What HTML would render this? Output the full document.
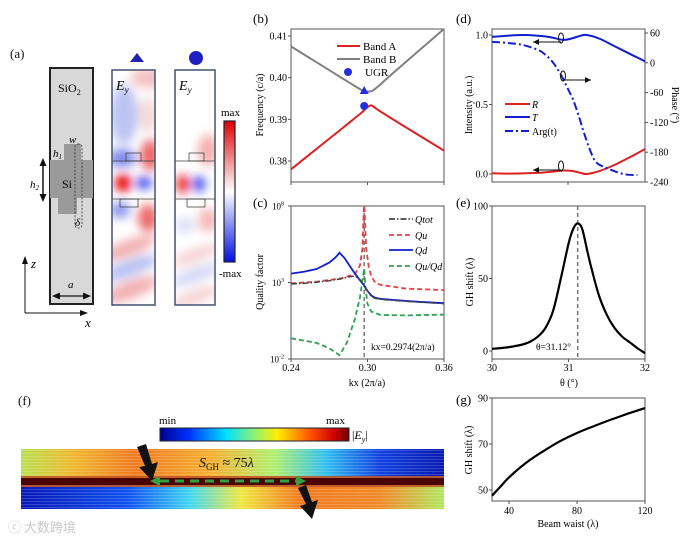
<!DOCTYPE html>
<html><head><meta charset="utf-8">
<style>
html,body{margin:0;padding:0;background:#fff;}
svg{display:block;font-family:"Liberation Serif","Noto Serif CJK SC",serif;}
.lb{font-size:13px;fill:#111;}
</style></head>
<body>
<svg id="fig" width="689" height="543" viewBox="0 0 689 543" xmlns="http://www.w3.org/2000/svg">
<defs>
<filter id="blur6" x="-50%" y="-50%" width="200%" height="200%"><feGaussianBlur stdDeviation="5"/></filter>
<linearGradient id="rwb" x1="0" y1="0" x2="0" y2="1"><stop offset="0" stop-color="#e00000"/><stop offset="0.5" stop-color="#ffffff"/><stop offset="1" stop-color="#0010e0"/></linearGradient>
<linearGradient id="jet" x1="0" y1="0" x2="1" y2="0"><stop offset="0" stop-color="#00008f"/><stop offset="0.15" stop-color="#0030ff"/><stop offset="0.35" stop-color="#00e0ff"/><stop offset="0.5" stop-color="#90f070"/><stop offset="0.62" stop-color="#ffef00"/><stop offset="0.8" stop-color="#ff5000"/><stop offset="0.92" stop-color="#d00000"/><stop offset="1" stop-color="#700000"/></linearGradient>
<linearGradient id="upper" gradientUnits="userSpaceOnUse" x1="21" y1="0" x2="444" y2="0"><stop offset="0" stop-color="#b8e050"/><stop offset="0.12" stop-color="#f0b830"/><stop offset="0.27" stop-color="#f07a20"/><stop offset="0.45" stop-color="#f5b030"/><stop offset="0.6" stop-color="#b0f070"/><stop offset="0.72" stop-color="#30c0f0"/><stop offset="0.85" stop-color="#1040e0"/><stop offset="1" stop-color="#0818b0"/></linearGradient>
<linearGradient id="lower" gradientUnits="userSpaceOnUse" x1="21" y1="0" x2="444" y2="0"><stop offset="0" stop-color="#0818b8"/><stop offset="0.25" stop-color="#1050f0"/><stop offset="0.4" stop-color="#40d8f0"/><stop offset="0.52" stop-color="#f0e840"/><stop offset="0.66" stop-color="#f07a20"/><stop offset="0.85" stop-color="#f08a28"/><stop offset="1" stop-color="#b0e860"/></linearGradient>
<pattern id="stripes" width="4" height="3" patternUnits="userSpaceOnUse"><rect width="4" height="1" fill="#ffffff" opacity="0.18"/></pattern>
<clipPath id="cb2"><rect x="112" y="70" width="43" height="235"/></clipPath>
<clipPath id="cb3"><rect x="175" y="70" width="40" height="235"/></clipPath>
</defs>

<g>
<text class="lb" x="10" y="58">(a)</text>
<rect x="50" y="68" width="43" height="236" fill="#d8d8d8" stroke="#222" stroke-width="2"/>
<text x="58" y="92" style="font-size:12px">SiO<tspan style="font-size:8px" dy="3">2</tspan></text>
<rect x="64" y="144" width="17" height="17" fill="#9a9a9a"/>
<rect x="50" y="160" width="43" height="38" fill="#9a9a9a"/>
<rect x="58" y="197" width="19" height="17" fill="#9a9a9a"/>
<rect x="75" y="144" width="7" height="84" rx="3" fill="none" stroke="#333" stroke-dasharray="2,1.5" stroke-width="0.8"/>
<text x="62" y="188" style="font-size:12px">Si</text>
<text x="69" y="143" style="font-size:11px;font-style:italic">w</text>
<text x="53" y="157" style="font-size:11px;font-style:italic">h<tspan style="font-size:7px" dy="2">1</tspan></text>
<text x="30" y="188" style="font-size:11px;font-style:italic">h<tspan style="font-size:7px" dy="2">2</tspan></text>
<line x1="43" y1="163" x2="43" y2="197" stroke="#111" stroke-width="1.5"/>
<polygon points="43,158 39.5,166 46.5,166" fill="#111"/><polygon points="43,202 39.5,194 46.5,194" fill="#111"/>
<text x="75" y="226" style="font-size:11px;font-style:italic">δ</text>
<text x="68" y="288" style="font-size:11px;font-style:italic">a</text>
<line x1="56" y1="296" x2="88" y2="296" stroke="#111" stroke-width="1.3"/>
<polygon points="52,296 60,292.5 60,299.5" fill="#111"/><polygon points="91,296 83,292.5 83,299.5" fill="#111"/>
<line x1="25" y1="313" x2="25" y2="262" stroke="#111" stroke-width="1"/>
<polygon points="25,256 22,264 28,264" fill="#111"/>
<line x1="25" y1="313" x2="82" y2="313" stroke="#111" stroke-width="1"/>
<polygon points="88,313 80,310 80,316" fill="#111"/>
<text x="31" y="268" style="font-size:13px;font-style:italic">z</text>
<text x="85" y="327" style="font-size:13px;font-style:italic">x</text>

<polygon points="137,53 130,62 144,62" fill="#2020b0"/>
<circle cx="196" cy="58" r="7" fill="#2020c0"/>

<g clip-path="url(#cb2)">
<rect x="112" y="70" width="43" height="235" fill="#fff"/>
<g filter="url(#blur6)">
<ellipse cx="150" cy="78" rx="20" ry="10" fill="#f4c0c0"/>
<ellipse cx="124" cy="115" rx="14" ry="30" fill="#bcc4f2"/>
<ellipse cx="148" cy="115" rx="10" ry="18" fill="#f6dada"/>
<ellipse cx="122" cy="158" rx="14" ry="9" fill="#7c88ea"/>
<ellipse cx="150" cy="155" rx="9" ry="16" fill="#ee6060"/>
<ellipse cx="123" cy="183" rx="8" ry="9" fill="#e80000"/>
<ellipse cx="144" cy="183" rx="8" ry="6" fill="#3040e8"/>
<ellipse cx="148" cy="218" rx="10" ry="14" fill="#ee6868"/>
<ellipse cx="120" cy="210" rx="10" ry="8" fill="#8890ec"/>
<ellipse cx="128" cy="248" rx="30" ry="8" fill="#f2b0b0" transform="rotate(-20 128 248)"/>
<ellipse cx="130" cy="268" rx="30" ry="8" fill="#b8c0f2" transform="rotate(-20 130 268)"/>
<ellipse cx="130" cy="290" rx="30" ry="9" fill="#f2b0b0" transform="rotate(-20 130 290)"/>
</g>
<rect x="126" y="153" width="15" height="8" fill="none" stroke="#333" stroke-width="0.7"/>
<rect x="112" y="161" width="43" height="38" fill="none" stroke="#333" stroke-width="0.7"/>
<rect x="120" y="199" width="18" height="8" fill="none" stroke="#333" stroke-width="0.7"/>
</g>
<rect x="112" y="70" width="43" height="235" fill="none" stroke="#445070" stroke-width="1.5"/>
<text x="116" y="90" style="font-size:14px;font-style:italic">E<tspan style="font-size:9px" dy="3">y</tspan></text>

<g clip-path="url(#cb3)">
<rect x="175" y="70" width="40" height="235" fill="#fff"/>
<g filter="url(#blur6)">
<ellipse cx="208" cy="150" rx="10" ry="16" fill="#f4b0b0"/>
<ellipse cx="183" cy="184" rx="6" ry="9" fill="#e81010"/>
<ellipse cx="199" cy="184" rx="6" ry="8" fill="#3040e8"/>
<ellipse cx="208" cy="220" rx="10" ry="12" fill="#f4b8b8"/>
<ellipse cx="185" cy="225" rx="10" ry="8" fill="#dcdff8"/>
<ellipse cx="195" cy="255" rx="26" ry="7" fill="#f6d4d4" transform="rotate(-20 195 255)"/>
<ellipse cx="195" cy="275" rx="26" ry="7" fill="#d4d8f6" transform="rotate(-20 195 275)"/>
<ellipse cx="195" cy="297" rx="26" ry="7" fill="#f6d4d4" transform="rotate(-20 195 297)"/>
</g>
<rect x="189" y="153" width="15" height="8" fill="none" stroke="#333" stroke-width="0.7"/>
<rect x="175" y="161" width="40" height="38" fill="none" stroke="#333" stroke-width="0.7"/>
<rect x="187" y="199" width="18" height="8" fill="none" stroke="#333" stroke-width="0.7"/>
</g>
<rect x="175" y="70" width="40" height="235" fill="none" stroke="#445070" stroke-width="1.5"/>
<text x="179" y="90" style="font-size:14px;font-style:italic">E<tspan style="font-size:9px" dy="3">y</tspan></text>

<rect x="224" y="121" width="11" height="141" fill="url(#rwb)" stroke="#223" stroke-width="1.2"/>
<text x="221" y="116" style="font-size:11px">max</text>
<text x="219" y="277" style="font-size:11px">-max</text>
</g>

<g>
<text class="lb" x="18" y="405">(f)</text>
<rect x="160" y="428" width="189" height="13" fill="url(#jet)" stroke="#223" stroke-width="1"/>
<text x="159" y="424" style="font-size:11px">min</text>
<text x="326" y="424" style="font-size:11px">max</text>
<text x="352" y="439" style="font-size:12px">|<tspan font-style="italic">E</tspan><tspan style="font-size:8px;font-style:italic" dy="3">y</tspan><tspan dy="-3">|</tspan></text>
<rect x="21" y="449" width="423" height="30" fill="url(#upper)"/>
<rect x="21" y="484" width="423" height="25" fill="url(#lower)"/>
<rect x="21" y="449" width="423" height="60" fill="url(#stripes)"/>
<rect x="21" y="476" width="423" height="11" fill="#c05828" opacity="0.9"/>
<rect x="21" y="478" width="423" height="7" fill="#4a0404"/>
<text x="199" y="467" style="font-size:14px;fill:#111"><tspan font-style="italic">S</tspan><tspan style="font-size:9px" dy="3">GH</tspan><tspan dy="-3"> ≈ 75</tspan><tspan font-style="italic">λ</tspan></text>
<polygon points="137,447 146,444 152,464 158,462 152,481 139,467 145,466" fill="#111"/>
<polygon points="298,488 306,485 312,502 318,500 312,519 300,506 306,504" fill="#111"/>
<line x1="160" y1="481" x2="296" y2="481" stroke="#30a040" stroke-width="3" stroke-dasharray="9,6"/>
<polygon points="150,481 160,476 160,486" fill="#30a040"/><polygon points="306,481 296,476 296,486" fill="#30a040"/>
<text x="8" y="532" style="font-size:13px;fill:#c8c8c8;font-family:'Noto Sans CJK SC',sans-serif">ⓒ 大数跨境</text>
</g>

<g id="charts"></g>
</svg>

<script>
// ---------- data ----------
const bK = [0.24,0.26,0.28,0.29,0.295,0.2974,0.30,0.302,0.304,0.31,0.33,0.36];
const bandA = [0.378,0.3829,0.3878,0.3903,0.3915,0.3922,0.3929,0.3933,0.3932,0.3919,0.3881,0.3825];
const bK2 = [0.24,0.26,0.28,0.29,0.295,0.298,0.302,0.306,0.32,0.34,0.36];
const bandB = [0.4075,0.4037,0.3999,0.3980,0.3971,0.3967,0.3967,0.3973,0.4011,0.4064,0.4117];
const ugrK = [0.2974];
const ugrLow = [0.3932];
const ugrHigh = [0.3968];
const bYTicks = [0.38,0.39,0.40,0.41];

const cK = [0.24,0.25,0.26,0.27,0.275,0.278,0.282,0.286,0.29,0.294,0.2974,0.30,0.303,0.306,0.31,0.32,0.33,0.34,0.36];
const logQd = [3.58,3.7,3.88,4.3,4.65,4.95,4.6,4.1,3.6,3.15,2.8,2.45,2.15,2.0,1.93,1.86,1.8,1.74,1.65];
const logQtot = [2.9,2.95,3.02,3.12,3.18,3.22,3.3,3.38,3.42,3.2,2.8,2.45,2.1,1.96,1.9,1.83,1.77,1.72,1.62];
const cKu = [0.24,0.26,0.28,0.29,0.294,0.296,0.2972,0.2976,0.299,0.301,0.303,0.306,0.31,0.33,0.36];
const logQu = [2.95,3.05,3.28,3.55,4.1,5.2,8.0,8.0,5.2,4.0,3.4,3.0,2.85,2.6,2.5];
const cKr = [0.24,0.26,0.27,0.278,0.284,0.29,0.294,0.2965,0.2974,0.2985,0.30,0.303,0.31,0.33,0.36];
const logRatio = [-0.65,-0.95,-1.3,-1.75,-0.9,0.6,2.0,3.4,3.9,2.6,1.6,1.1,0.88,0.85,0.9];
const cYTicks = [-2,3,8];
const cXTicks = [0.24,0.30,0.36];

const dX = [0,0.1,0.2,0.3,0.38,0.465,0.52,0.58,0.62,0.7,0.8,0.9,1];
const tIntensity = [0.986,0.995,1.0,0.995,0.985,0.965,0.975,0.995,1.0,0.975,0.92,0.865,0.81];
const rIntensity = [0.005,0.003,0.004,0.008,0.015,0.025,0.022,0.008,0.0,0.02,0.065,0.12,0.18];
const dXp = [0,0.1,0.2,0.3,0.35,0.4,0.45,0.5,0.53,0.57,0.6,0.64,0.68,0.75,0.86,0.95];
const argT = [42,40,36,26,16,0,-24,-55,-74,-110,-140,-175,-200,-212,-224,-226];
const dLTicks = [0.0,0.5,1.0];
const dRTicks = [60,0,-60,-120,-180,-240];

const theta = [30,30.2,30.4,30.5,30.6,30.7,30.8,30.9,31.0,31.06,31.12,31.18,31.25,31.3,31.4,31.5,31.6,31.7,31.8,31.9,32];
const ghShift = [1.5,2.5,4.5,6.5,10,16,28,50,74,84,88,84,68,57,38,25,16,10,6,2,-1.5];
const eYTicks = [0,50,100];
const eXTicks = [30,31,32];
const peakTheta = [31.12];

const waist = [30,35,40,50,60,70,80,90,100,110,120];
const ghWaist = [47.5,51.5,55.5,61.8,66.8,71.2,74.8,77.8,80.6,83.2,85.6];
const gYTicks = [50,70,90];
const gXTicks = [40,80,120];

// ---------- helpers ----------
const NS = 'http://www.w3.org/2000/svg';
const root = document.getElementById('charts');
function el(tag, attrs, parent){const e=document.createElementNS(NS,tag);for(const k in attrs)e.setAttribute(k,attrs[k]);(parent||root).appendChild(e);return e;}
function scale(d0,d1,p0,p1){return v=>p0+(v-d0)/(d1-d0)*(p1-p0);}
function smooth(pts){let d='M'+pts[0][0].toFixed(1)+','+pts[0][1].toFixed(1);
 for(let i=0;i<pts.length-1;i++){const p0=pts[Math.max(0,i-1)],p1=pts[i],p2=pts[i+1],p3=pts[Math.min(pts.length-1,i+2)];
  const c1=[p1[0]+(p2[0]-p0[0])/6,p1[1]+(p2[1]-p0[1])/6],c2=[p2[0]-(p3[0]-p1[0])/6,p2[1]-(p3[1]-p1[1])/6];
  d+=' C'+c1[0].toFixed(1)+','+c1[1].toFixed(1)+' '+c2[0].toFixed(1)+','+c2[1].toFixed(1)+' '+p2[0].toFixed(1)+','+p2[1].toFixed(1);}
 return d;}
function poly(pts){return 'M'+pts.map(p=>p[0].toFixed(1)+','+p[1].toFixed(1)).join(' L');}
function pts(xs,ys,sx,sy){return xs.map((x,i)=>[sx(x),sy(ys[i])]);}
function txt(x,y,s,anchor,size){const t=el('text',{x:x,y:y,'text-anchor':anchor||'start'});t.style.fontSize=(size||10)+'px';t.textContent=s;return t;}

// ---------- panel b ----------
const bx=scale(0.24,0.36,291,444), by=scale(0.37496,0.41168,182,29);
let e;
e=el('rect',{x:291,y:29,width:153,height:153,fill:'none',stroke:'#555','stroke-width':1});


bYTicks.forEach(v=>{el('line',{x1:291,x2:288,y1:by(v),y2:by(v),stroke:'#555'});
 e=txt(287,by(v)+3.5,v.toFixed(2),'end');
 
 });
cXTicks.forEach(v=>el('line',{x1:bx(v),x2:bx(v),y1:182,y2:185,stroke:'#555'}));
e=el('path',{d:smooth(pts(bK2,bandB,bx,by)),fill:'none',stroke:'#808080','stroke-width':2});


e=el('path',{d:smooth(pts(bK,bandA,bx,by)),fill:'none',stroke:'#e02020','stroke-width':2});


e=el('circle',{cx:bx(ugrK[0]),cy:by(ugrLow[0]),r:4,fill:'#2030e0'});


{const x=bx(ugrK[0]),y=by(ugrHigh[0]);
e=el('polygon',{points:`${x},${y-5} ${x-4.5},${y+3} ${x+4.5},${y+3}`,fill:'#2030e0'});

}
e=txt(263,105,'Frequency (c/a)','middle',10);
e.setAttribute('transform','rotate(-90 263 105)');


e=txt(253,23,'(b)','start',13);


[['#e02020','Band A',46],['#808080','Band B',59]].forEach(l=>{
 e=el('line',{x1:337,x2:360,y1:l[2],y2:l[2],stroke:l[0],'stroke-width':2});
 
 
 e=txt(363,l[2]+4,l[1],'start',11);
 
 });
e=el('circle',{cx:348,cy:72,r:4,fill:'#2030e0'});


e=txt(365,76,'UGR','start',11);



// ---------- panel c ----------
const cx=scale(0.24,0.36,291,444), cy=scale(-2,8,359,206);
e=el('rect',{x:291,y:206,width:153,height:153,fill:'none',stroke:'#555'});


cYTicks.forEach(v=>{el('line',{x1:291,x2:288,y1:cy(v),y2:cy(v),stroke:'#555'});
 const t=txt(284,cy(v)+3.5,'10','end',9);
 const s=document.createElementNS(NS,'tspan');s.setAttribute('dy','-4');s.style.fontSize='6px';s.textContent=String(v);t.appendChild(s);
 
 });
cXTicks.forEach(v=>{el('line',{x1:cx(v),x2:cx(v),y1:359,y2:362,stroke:'#555'});
 e=txt(cx(v),371,v.toFixed(2),'middle',10);
 
 });
e=el('line',{x1:cx(0.2974),x2:cx(0.2974),y1:206,y2:359,stroke:'#777','stroke-width':1.5,'stroke-dasharray':'4,3'});


e=el('path',{d:poly(pts(cKr,logRatio,cx,cy)),fill:'none',stroke:'#30a050','stroke-width':1.8,'stroke-dasharray':'5,3'});


e=el('path',{d:poly(pts(cKu,logQu,cx,cy)),fill:'none',stroke:'#e84040','stroke-width':1.8,'stroke-dasharray':'5,3'});


e=el('path',{d:poly(pts(cK,logQd,cx,cy)),fill:'none',stroke:'#1020d0','stroke-width':1.8});


e=el('path',{d:poly(pts(cK,logQtot,cx,cy)),fill:'none',stroke:'#444','stroke-width':1.5,'stroke-dasharray':'6,2,1.5,2'});


e=txt(263,282,'Quality factor','middle',10);
e.setAttribute('transform','rotate(-90 263 282)');


e=txt(367,386,'kx (2π/a)','middle',10);


e=txt(371,350,'kx=0.2974(2π/a)','start',9.5);


e=txt(253,207,'(c)','start',13);


[['#444','6,2,1.5,2','Qtot',219],['#e84040','5,3','Qu',235],['#1020d0','','Qd',250],['#30a050','5,3','Qu/Qd',266]].forEach(l=>{
 e=el('line',{x1:389,x2:413,y1:l[3],y2:l[3],stroke:l[0],'stroke-width':1.8,'stroke-dasharray':l[1]||'none'});
 
 
 e=txt(415,l[3]+4,l[2],'start',10);
 e.style.fontStyle='italic';
 
 });

// ---------- panel d ----------
const dx=scale(0,1,492,645), dyI=scale(0,1,174,35), dyP=scale(-240,60,182,33);
e=el('rect',{x:492,y:29,width:153,height:153,fill:'none',stroke:'#555'});


dLTicks.forEach(v=>{el('line',{x1:492,x2:489,y1:dyI(v),y2:dyI(v),stroke:'#555'});
 e=txt(488,dyI(v)+3.5,v.toFixed(1),'end');
 
 });
dRTicks.forEach(v=>{el('line',{x1:645,x2:648,y1:dyP(v),y2:dyP(v),stroke:'#555'});
 e=txt(650,dyP(v)+3.5,String(v),'start');
 
 });
el('line',{x1:568,x2:568,y1:182,y2:185,stroke:'#555'});
e=el('path',{d:smooth(pts(dX,tIntensity,dx,dyI)),fill:'none',stroke:'#1020d0','stroke-width':2});


e=el('path',{d:smooth(pts(dX,rIntensity,dx,dyI)),fill:'none',stroke:'#e02020','stroke-width':2});


e=el('path',{d:smooth(pts(dXp,argT,dx,dyP)),fill:'none',stroke:'#1020d0','stroke-width':2,'stroke-dasharray':'8,3,2,3'});


[[561,38,-1],[563,76,1],[561,166,-1]].forEach(a=>{
 el('ellipse',{cx:a[0],cy:a[1],rx:2.5,ry:5,fill:'none',stroke:'#111','stroke-width':1});
 const x2=a[0]+a[2]*28;
 el('line',{x1:a[0],x2:x2,y1:a[1]+4,y2:a[1]+4,stroke:'#111','stroke-width':1});
 el('polygon',{points:`${x2},${a[1]+4} ${x2-a[2]*6},${a[1]+1} ${x2-a[2]*6},${a[1]+7}`,fill:'#111'});});
e=txt(472,105,'Intensity (a.u.)','middle',10);
e.setAttribute('transform','rotate(-90 472 105)');


e=txt(672,105,'Phase (°)','middle',10);
e.setAttribute('transform','rotate(90 672 105)');


e=txt(456,23,'(d)','start',13);


[['#e02020','','R',104],['#1020d0','','T',117],['#1020d0','8,3,2,3','Arg(t)',131]].forEach(l=>{
 e=el('line',{x1:505,x2:530,y1:l[3],y2:l[3],stroke:l[0],'stroke-width':2,'stroke-dasharray':l[1]||'none'});
 
 
 e=txt(532,l[3]+4,l[2],'start',10);
 if(l[2].length===1)e.style.fontStyle='italic';
 
 });

// ---------- panel e ----------
const ex=scale(30,32,492,645), ey=scale(0,100,351,206);
e=el('rect',{x:492,y:206,width:153,height:153,fill:'none',stroke:'#555'});


eYTicks.forEach(v=>{el('line',{x1:492,x2:489,y1:ey(v),y2:ey(v),stroke:'#555'});
 e=txt(488,ey(v)+3.5,String(v),'end');
 
 });
eXTicks.forEach(v=>{el('line',{x1:ex(v),x2:ex(v),y1:359,y2:362,stroke:'#555'});
 e=txt(ex(v),371,String(v),'middle');
 
 });
e=el('line',{x1:ex(peakTheta[0]),x2:ex(peakTheta[0]),y1:206,y2:359,stroke:'#777','stroke-width':1.5,'stroke-dasharray':'4,3'});


e=el('path',{d:smooth(pts(theta,ghShift,ex,ey)),fill:'none',stroke:'#000','stroke-width':2.2});


e=txt(536,350,'θ=31.12°','start',9.5);


e=txt(473,282,'GH shift (λ)','middle',10);
e.setAttribute('transform','rotate(-90 473 282)');


e=txt(569,386,'θ (°)','middle',10);


e=txt(456,207,'(e)','start',13);



// ---------- panel g ----------
const gx=scale(40,120,509,645), gy=scale(50,90,490,398);
e=el('rect',{x:492,y:398,width:153,height:103,fill:'none',stroke:'#555'});


gYTicks.forEach(v=>{el('line',{x1:492,x2:489,y1:gy(v),y2:gy(v),stroke:'#555'});
 e=txt(488,gy(v)+3.5,String(v),'end');
 
 });
gXTicks.forEach(v=>{el('line',{x1:gx(v),x2:gx(v),y1:501,y2:504,stroke:'#555'});
 e=txt(gx(v),514,String(v),'middle');
 
 });
e=el('path',{d:smooth(pts(waist,ghWaist,gx,gy)),fill:'none',stroke:'#000','stroke-width':2.2});


e=txt(472,450,'GH shift (λ)','middle',10);
e.setAttribute('transform','rotate(-90 472 450)');


e=txt(568,527,'Beam waist (λ)','middle',10);


e=txt(456,404,'(g)','start',13);


</script>
</body></html>
